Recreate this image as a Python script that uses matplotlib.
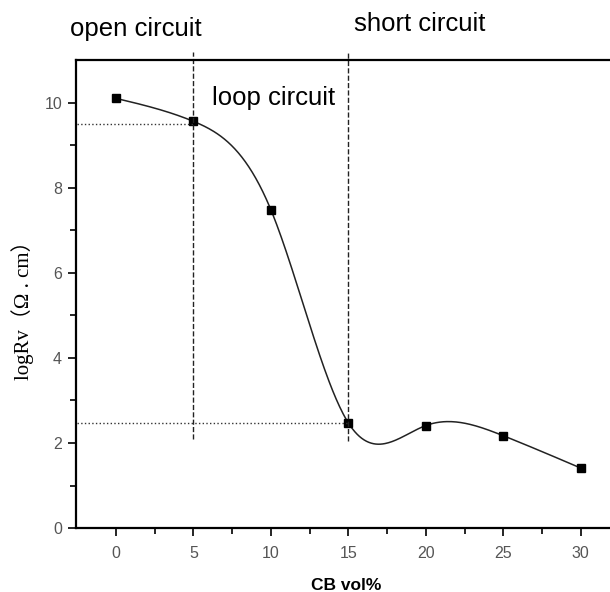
import numpy as np
import matplotlib.pyplot as plt

# CB content (vol%) and volume resistivity
cb = [0, 5, 10, 15, 20, 25, 30]
logrv = [10.1, 9.56, 7.48, 2.47, 2.41, 2.17, 1.41]


def natural_spline(x, y, xs):
    "自然三次样条"
    x = np.asarray(x, float)
    y = np.asarray(y, float)
    n = len(x)
    h = np.diff(x)
    A = np.zeros((n, n))
    b = np.zeros(n)
    A[0, 0] = 1
    A[-1, -1] = 1
    for i in range(1, n - 1):
        A[i, i - 1] = h[i - 1]
        A[i, i] = 2 * (h[i - 1] + h[i])
        A[i, i + 1] = h[i]
        b[i] = 6 * ((y[i + 1] - y[i]) / h[i] - (y[i] - y[i - 1]) / h[i - 1])
    M = np.linalg.solve(A, b)
    idx = np.clip(np.searchsorted(x, xs) - 1, 0, n - 2)
    x0, x1 = x[idx], x[idx + 1]
    hh = x1 - x0
    t0 = x1 - xs
    t1 = xs - x0
    return (M[idx] * t0**3 / (6 * hh) + M[idx + 1] * t1**3 / (6 * hh)
            + (y[idx] / hh - M[idx] * hh / 6) * t0
            + (y[idx + 1] / hh - M[idx + 1] * hh / 6) * t1)


fig = plt.figure(figsize=(6.1, 5.92), dpi=100)
ax = fig.add_axes([0.1246, 0.108, 0.891, 0.7905])

xs = np.linspace(cb[0], cb[-1], 400)
ax.plot(xs, natural_spline(cb, logrv, xs), color='#222222', lw=1.1)
ax.plot(cb, logrv, 's', color='black', ms=6)

# 分区参考线
ax.plot([-2.5, 5], [9.5, 9.5], ':', color='#333333', lw=1)
ax.plot([-2.5, 15], [2.47, 2.47], ':', color='#333333', lw=1)
ax.plot([5, 5], [2.1, 11.2], '--', color='#222222', lw=1, clip_on=False)
ax.plot([15, 15], [2.05, 11.2], '--', color='#222222', lw=1, clip_on=False)

ax.text(-2.96, 11.74, 'open circuit', fontsize=18.5, family='Liberation Sans',
        ha='left', va='center')
ax.text(15.39, 11.85, 'short circuit', fontsize=18.5, family='Liberation Sans',
        ha='left', va='center')
ax.text(6.18, 10.12, 'loop circuit', fontsize=18.5, family='Liberation Sans',
        ha='left', va='center')

ax.set_xlim(-2.58, 32.5)
ax.set_ylim(0, 11)
ax.set_xticks([0, 5, 10, 15, 20, 25, 30])
ax.set_xticks([2.5, 7.5, 12.5, 17.5, 22.5, 27.5], minor=True)
ax.set_yticks([0, 2, 4, 6, 8, 10])
ax.set_yticks([1, 3, 5, 7, 9], minor=True)
ax.tick_params(which='both', direction='out', width=1.2, labelsize=11.5,
               labelcolor='#555555')
ax.tick_params(axis='x', pad=7)
ax.tick_params(axis='y', pad=4)
ax.tick_params(which='major', length=6)
ax.tick_params(which='minor', length=4)
for lab in ax.get_xticklabels() + ax.get_yticklabels():
    lab.set_family('Liberation Sans')
for s in ax.spines.values():
    s.set_linewidth(1.6)
ax.spines['right'].set_visible(False)

fig.text(346 / 610, 1 - 585 / 592, 'CB vol%', fontsize=12.5, weight='bold',
         family='Liberation Sans', ha='center', va='center')
fig.text(23 / 610, 1 - 305 / 592, 'logRv（Ω . cm）', fontsize=15, rotation=90,
         family=['Liberation Serif', 'Noto Sans CJK SC'], ha='center', va='center')

fig.savefig('out.png', dpi=100)
